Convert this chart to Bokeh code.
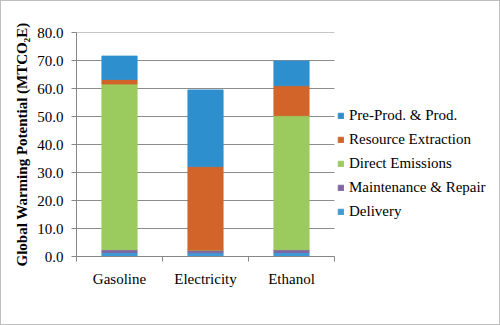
from bokeh.plotting import figure
from bokeh.models import Range1d, FixedTicker, Legend, LegendItem, ColumnDataSource, PrintfTickFormatter
from bokeh.embed import file_html
from bokeh.resources import INLINE

categories = ["Gasoline", "Electricity", "Ethanol"]
delivery = [1.4, 1.3, 1.4]
maintenance = [1.0, 1.0, 1.0]
direct_emissions = [59.2, 0.0, 47.9]
resource_extraction = [1.6, 29.8, 10.7]
pre_prod = [8.4, 27.4, 8.8]

series_names = ["Delivery", "Maintenance & Repair", "Direct Emissions",
                "Resource Extraction", "Pre-Prod. & Prod."]
series_keys = ["delivery", "maintenance", "direct", "resource", "preprod"]
colors = ["#3C9AD6", "#8064A2", "#9BCB5E", "#D2642A", "#2E8FCF"]
y_ticks = [0, 10, 20, 30, 40, 50, 60, 70, 80]

n = len(categories)
xpos = [i + 0.5 for i in range(n)]
source = ColumnDataSource(dict(x=xpos, delivery=delivery, maintenance=maintenance,
                               direct=direct_emissions, resource=resource_extraction,
                               preprod=pre_prod))

# frame spans from x=75 to x=499; the category area takes 258 px of it
frame_w = 424
cat_w = 258
p = figure(width=500, height=325, output_backend="svg", toolbar_location=None,
           x_range=Range1d(0, n * frame_w / cat_w), y_range=Range1d(0, 80),
           min_border_left=75, min_border_right=1, min_border_top=31, min_border_bottom=70)
p.outline_line_color = None
p.background_fill_color = "white"
p.border_fill_color = "white"
p.styles = {"border": "1px solid #BFBFBF", "box-sizing": "border-box"}

# horizontal grid lines limited to the category area
p.segment(x0=0, x1=n, y0=y_ticks[1:], y1=y_ticks[1:], line_color="#8C8C8C", line_width=1)

renderers = p.vbar_stack(series_keys, x="x", width=0.41, fill_color=colors,
                         line_color=colors, line_width=0.8, source=source)

serif = "'Liberation Serif', 'Times New Roman', serif"
# x axis
p.xaxis.ticker = FixedTicker(ticks=xpos, minor_ticks=list(range(n + 1)))
p.xaxis.major_label_overrides = {x: c for x, c in zip(xpos, categories)}
p.xaxis.bounds = (0, n)
p.xaxis.major_tick_line_color = None
p.xaxis.minor_tick_out = 5
p.xaxis.minor_tick_in = 0
p.xaxis.minor_tick_line_color = "#868686"
p.xaxis.axis_line_color = "#868686"
p.xaxis.major_label_text_font = serif
p.xaxis.major_label_text_font_size = "15px"
p.xaxis.major_label_text_color = "#000000"
p.xaxis.major_label_standoff = 8
p.xgrid.grid_line_color = None
p.ygrid.grid_line_color = None

# y axis
p.yaxis.ticker = FixedTicker(ticks=y_ticks)
p.yaxis.formatter = PrintfTickFormatter(format="%.1f")
p.yaxis.major_tick_out = 5
p.yaxis.major_tick_in = 0
p.yaxis.minor_tick_line_color = None
p.yaxis.major_tick_line_color = "#868686"
p.yaxis.axis_line_color = "#868686"
p.yaxis.major_label_text_font = serif
p.yaxis.major_label_text_font_size = "15px"
p.yaxis.major_label_text_color = "#000000"
p.yaxis.major_label_standoff = 8
p.yaxis.axis_label = "Global Warming Potential (MTCO₂E)"
p.yaxis.axis_label_text_font = serif
p.yaxis.axis_label_text_font_style = "bold"
p.yaxis.axis_label_text_font_size = "15px"
p.yaxis.axis_label_text_color = "#000000"
p.yaxis.axis_label_standoff = 4

items = [LegendItem(label=nm, renderers=[r]) for nm, r in zip(series_names, renderers)][::-1]
legend = Legend(items=items, location=(261, 33), padding=0, margin=0, spacing=0,
                label_height=24, glyph_height=7, glyph_width=7, label_standoff=5,
                label_text_font=serif, label_text_font_size="15px", label_text_color="#000000",
                border_line_color=None, background_fill_alpha=0)
p.add_layout(legend, "center")

open("out.html", "w").write(file_html(p, INLINE))
